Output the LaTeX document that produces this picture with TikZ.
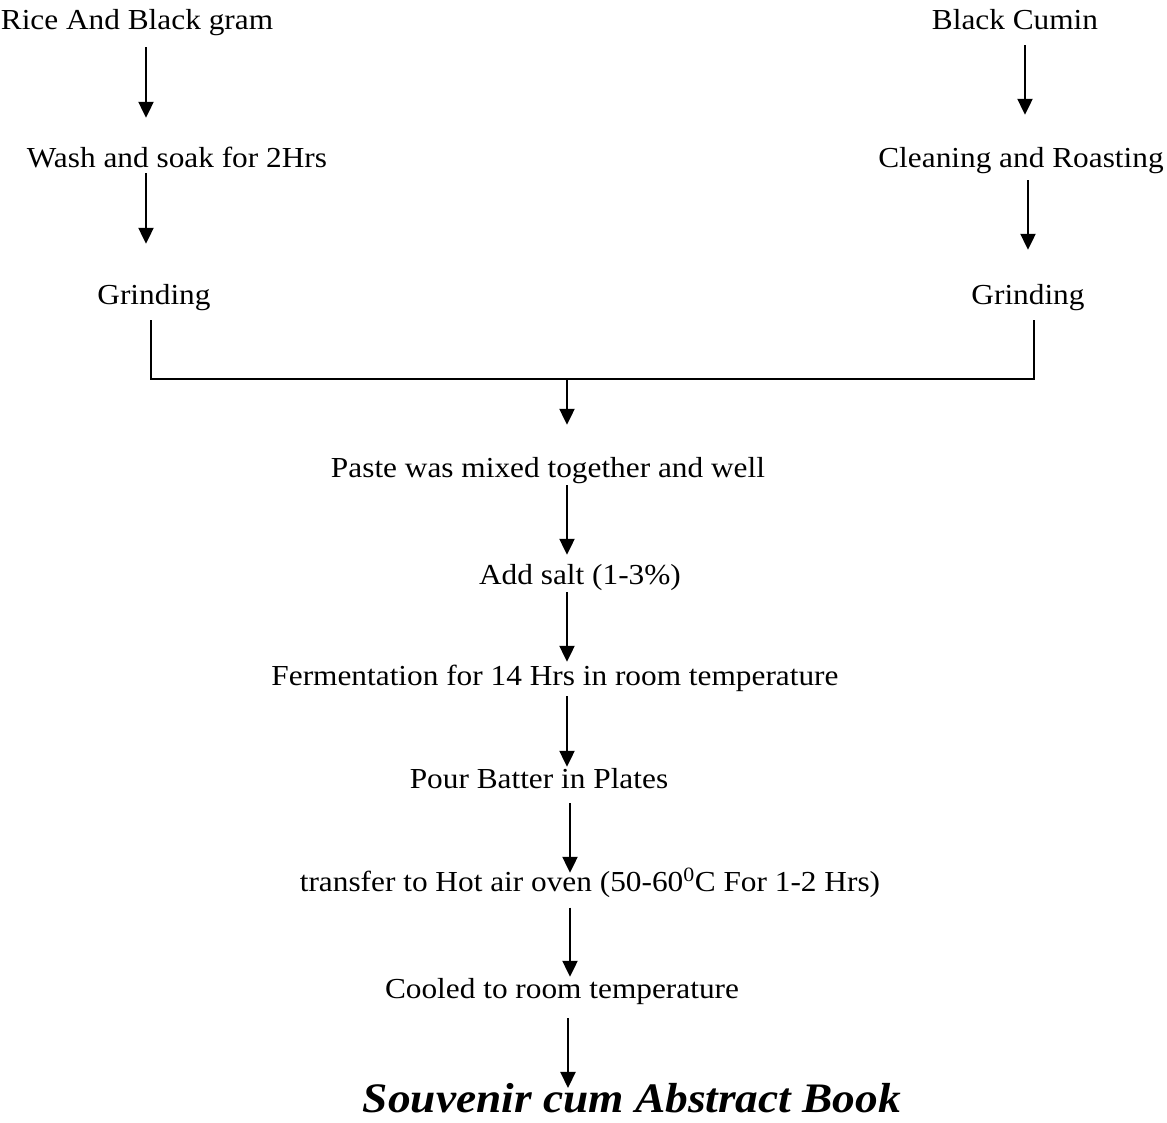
\documentclass[tikz,border=0pt]{standalone}
\usepackage{fontspec}
\setmainfont[FakeStretch=1.08]{Liberation Serif}
\usetikzlibrary{arrows.meta,calc}
\begin{document}
\begin{tikzpicture}[x=1pt,y=-1pt,
  lbl/.style={inner sep=0pt, text height=20pt, text depth=6pt, anchor=center, font=\fontsize{29}{34}\selectfont},
  arr/.style={line width=2.2pt, -{Triangle[width=15pt,length=16pt]}},
  ln/.style={line width=2.2pt}]
\useasboundingbox (0,0) rectangle (1167,1123);
\node[lbl] (a) at (137,23) {Rice And Black gram};
\node[lbl] (c) at (1015,23) {Black Cumin};
\node[lbl] (b) at (177,161) {Wash and soak for 2Hrs};
\node[lbl] (d) at (1021,161) {Cleaning and Roasting};
\node[lbl] (e) at (154,298) {Grinding};
\node[lbl] (f) at (1028,298) {Grinding};
\coordinate (j) at (567,379);
\node[lbl] (g) at (548,470) {Paste was mixed together and well};
\node[lbl] (h) at (580,577) {Add salt (1-3\%)};
\node[lbl] (i) at (555,678) {Fermentation for 14 Hrs in room temperature};
\node[lbl] (k) at (539,781) {Pour Batter in Plates};
\node[lbl] (l) at (590,884) {transfer to Hot air oven (50-60\textsuperscript{0}C For 1-2 Hrs)};
\node[lbl] (m) at (562,991) {Cooled to room temperature};
\node[inner sep=0pt, anchor=center, font=\fontsize{42}{48}\selectfont\bfseries\itshape] (n) at (632,1098) {Souvenir cum Abstract Book};
\coordinate (xl) at (146,0);
\coordinate (xr1) at (1025,0);
\coordinate (xr2) at (1028,0);
\coordinate (xc) at (567,0);
\coordinate (xc2) at (570,0);
\coordinate (xc3) at (568,0);
\draw[arr] ($(a.south -| xl)+(0,11)$) -- ($(b.north -| xl)+(0,-30)$);
\draw[arr] ($(c.south -| xr1)+(0,9)$) -- ($(d.north -| xr1)+(0,-33)$);
\draw[arr] ($(b.south -| xl)+(0,-1)$) -- ($(e.north -| xl)+(0,-41)$);
\draw[arr] ($(d.south -| xr2)+(0,6)$) -- ($(f.north -| xr2)+(0,-35)$);
\draw[ln] ($(e.south -| 151,0)+(0,9)$) |- (j) -| ($(f.south -| 1034,0)+(0,9)$);
\draw[arr] (j) -- ($(g.north -| xc)+(0,-32)$);
\draw[arr] ($(g.south -| xc)+(0,2)$) -- ($(h.north -| xc)+(0,-9)$);
\draw[arr] ($(h.south -| xc)+(0,2)$) -- ($(i.north -| xc)+(0,-3)$);
\draw[arr] ($(i.south -| xc)+(0,5)$) -- ($(k.north -| xc)+(0,-1)$);
\draw[arr] ($(k.south -| xc2)+(0,9)$) -- ($(l.north -| xc2)+(0,2)$);
\draw[arr] ($(l.south -| xc2)+(0,10.5)$) -- ($(m.north -| xc2)+(0,-1)$);
\draw[arr] ($(m.south -| xc3)+(0,14)$) -- ($(n.north -| xc3)+(0,5)$);
\end{tikzpicture}
\end{document}
